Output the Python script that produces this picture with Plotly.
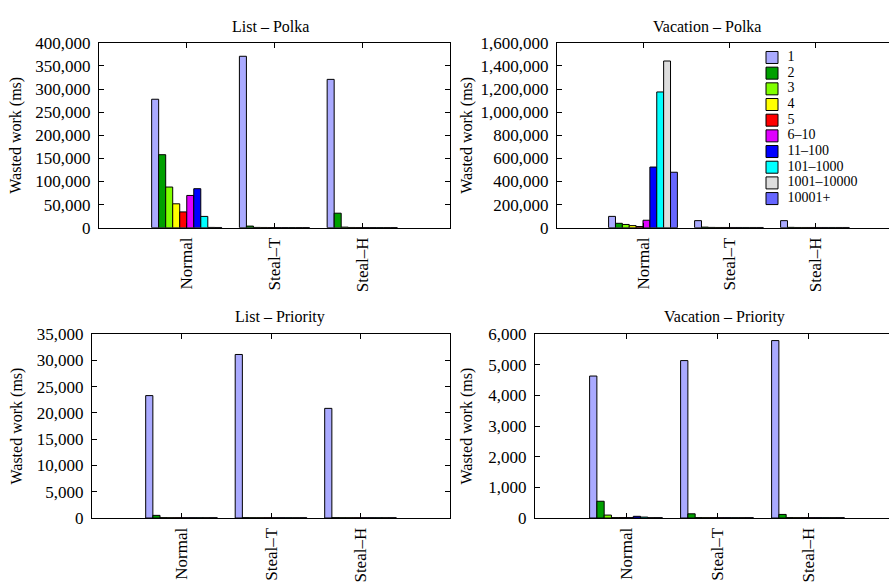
import plotly.graph_objects as go

categories = ["Normal", "Steal\u2013T", "Steal\u2013H"]
series_names = ["1", "2", "3", "4", "5", "6\u201310", "11\u2013100", "101\u20131000", "1001\u201310000", "10001+"]
colors = ["#aaaaff", "#00a000", "#80ff00", "#ffff00", "#ff0000", "#e000ff", "#0000ff", "#00ffff", "#dddddd", "#6666ff"]

# values per series: [Normal, Steal-T, Steal-H]
list_polka = [
    [278000, 371000, 321000],
    [158000, 3500, 31400],
    [88000, 600, 1200],
    [51700, 500, 500],
    [34200, 400, 400],
    [69800, 400, 400],
    [84400, 400, 400],
    [24400, 400, 400],
    [600, 400, 400],
    [500, 400, 400],
]
vacation_polka = [
    [98000, 61000, 61000],
    [38000, 5000, 3000],
    [28000, 2500, 2000],
    [18000, 2000, 2000],
    [10000, 2000, 2000],
    [64500, 2000, 2000],
    [525000, 2000, 2000],
    [1175000, 2000, 2000],
    [1443000, 2000, 2000],
    [480000, 2000, 2000],
]
list_priority = [
    [23300, 31130, 20870],
    [500, 60, 60],
    [60, 50, 50],
    [50, 50, 50],
    [50, 50, 50],
    [50, 50, 50],
    [50, 50, 50],
    [50, 50, 50],
    [50, 50, 50],
    [50, 50, 50],
]
vacation_priority = [
    [4633, 5137, 5790],
    [547, 137, 117],
    [95, 12, 12],
    [12, 10, 10],
    [12, 10, 10],
    [12, 10, 10],
    [55, 10, 10],
    [30, 10, 10],
    [10, 10, 10],
    [10, 10, 10],
]

W, H = 889, 588
panels = [
    dict(title="List \u2013 Polka", data=list_polka, ymax=400000, dtick=50000,
         xdom=[99/W, 450/W], ydom=[1-226/H, 1-35/H], xr=[-1, 3], mirror_y=True, tx=270, so=9),
    dict(title="Vacation \u2013 Polka", data=vacation_polka, ymax=1600000, dtick=200000,
         xdom=[557/W, 1.0], ydom=[1-226/H, 1-35/H], xr=[-1, -1+332/86], mirror_y=False, tx=707, so=3),
    dict(title="List \u2013 Priority", data=list_priority, ymax=35000, dtick=5000,
         xdom=[92/W, 450/W], ydom=[1-526/H, 1-336/H], xr=[-1, 3], mirror_y=True, tx=280, so=10),
    dict(title="Vacation \u2013 Priority", data=vacation_priority, ymax=6000, dtick=1000,
         xdom=[535/W, 1.0], ydom=[1-526/H, 1-336/H], xr=[-1, -1+354/91], mirror_y=False, tx=724, so=11),
]

FONT = "Liberation Serif, Times New Roman, Times, serif"
FS = 16
TFS = 17
LFS = 14
fig = go.Figure()
layout = dict(
    width=W, height=H, margin=dict(l=0, r=0, t=0, b=0),
    paper_bgcolor="white", plot_bgcolor="white",
    font=dict(family=FONT, size=FS, color="black"),
    barmode="group", bargap=0.2, bargroupgap=0.0,
    showlegend=False,
)
annotations = []
xs = [0, 1, 2]
for i, p in enumerate(panels):
    ax = "" if i == 0 else str(i + 1)
    for s in range(10):
        fig.add_trace(go.Bar(
            x=xs, y=p["data"][s], name=series_names[s],
            marker=dict(color=colors[s], line=dict(color="black", width=1)),
            xaxis="x" + ax, yaxis="y" + ax,
        ))
    layout["xaxis" + ax] = dict(
        domain=p["xdom"], range=p["xr"], anchor="y" + ax,
        tickvals=xs, ticktext=categories, tickangle=-90,
        ticks="inside", ticklen=5, tickcolor="black",
        showline=True, linecolor="black", linewidth=1, mirror="allticks",
        showgrid=False, zeroline=False, tickfont=dict(size=TFS), ticklabelstandoff=2,
    )
    layout["yaxis" + ax] = dict(
        domain=p["ydom"], range=[0, p["ymax"]], anchor="x" + ax,
        dtick=p["dtick"], tickformat=",d",
        ticks="inside", ticklen=5, tickcolor="black",
        showline=True, linecolor="black", linewidth=1,
        mirror="allticks" if p["mirror_y"] else False,
        showgrid=False, zeroline=False, tickfont=dict(size=TFS), ticklabelstandoff=4,
        title=dict(text="Wasted work (ms)", font=dict(size=FS), standoff=p["so"]),
    )
    annotations.append(dict(text=p["title"], x=p["tx"]/W, y=p["ydom"][1], xref="paper", yref="paper",
                            xanchor="center", yanchor="bottom", yshift=6, showarrow=False,
                            font=dict(size=FS)))

# legend drawn as a marker+text trace on an overlay axis (one row per series)
leg_idx = list(range(len(series_names)))
fig.add_trace(go.Scatter(
    x=[0] * len(series_names), y=leg_idx, mode="markers+text",
    text=["\u00a0\u00a0" + n for n in series_names], textposition="middle right",
    textfont=dict(size=LFS, family=FONT, color="black"),
    marker=dict(symbol="square", size=12, color=colors, line=dict(color="black", width=1)),
    xaxis="x5", yaxis="y5", hoverinfo="skip", cliponaxis=False,
))
layout["xaxis5"] = dict(domain=[752/W, 792/W], range=[-1, 1], visible=False, anchor="y5")
layout["yaxis5"] = dict(domain=[1-204/H, 1-42/H], range=[9.5, -0.5], visible=False, anchor="x5")
layout["annotations"] = annotations
fig.update_layout(**layout)
fig.write_html("out.html")
